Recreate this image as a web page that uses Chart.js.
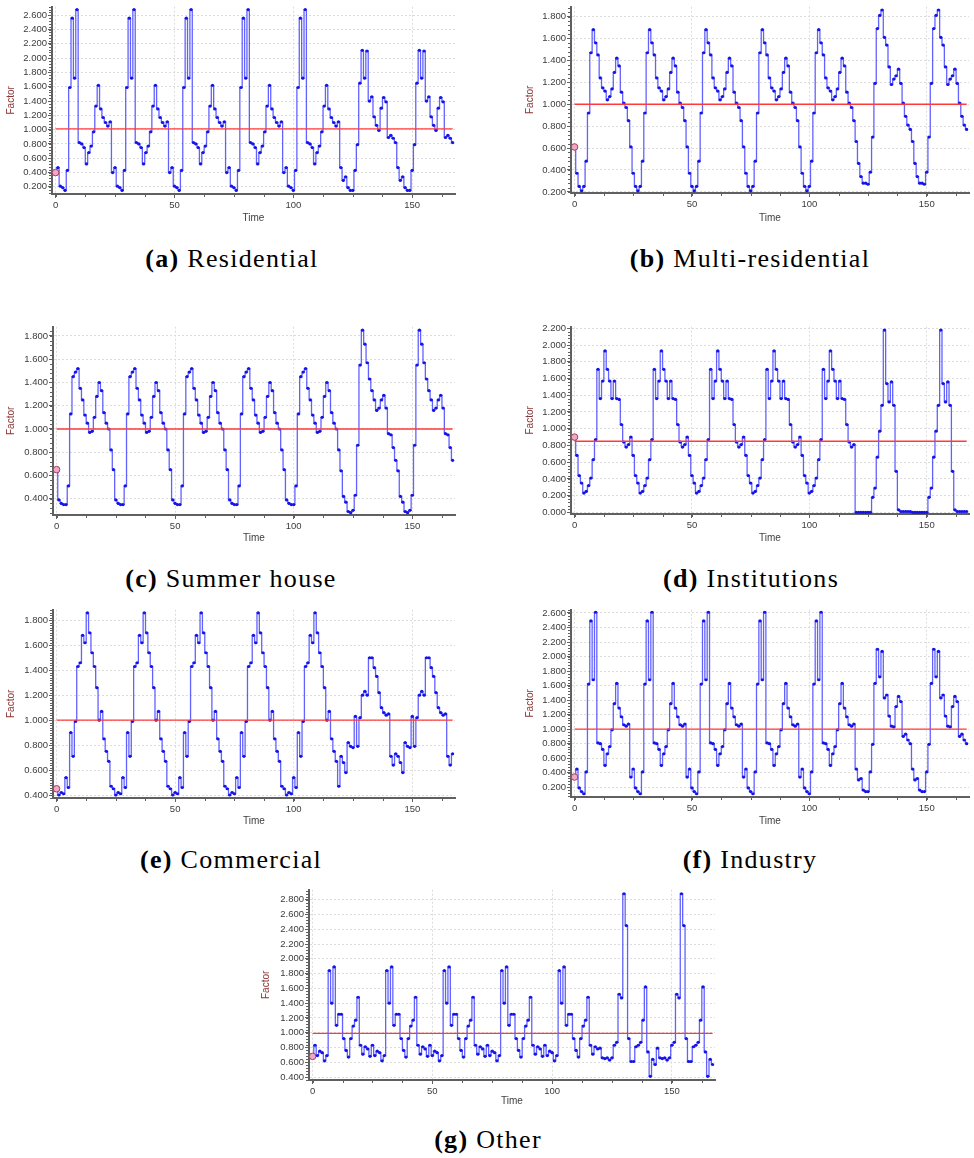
<!DOCTYPE html>
<html>
<head>
<meta charset="utf-8">
<script src="https://cdn.jsdelivr.net/npm/chart.js@4.4.1/dist/chart.umd.min.js"></script>
<style>
  body { margin: 0; background: #fff; }
  #page { position: relative; width: 974px; height: 1158px; overflow: hidden; background: #fff; }
  .panel { position: absolute; }
  .caption {
    position: absolute;
    transform: translateX(-50%);
    white-space: nowrap;
    font-family: "Liberation Serif", "DejaVu Serif", serif;
    font-size: 26px;
    letter-spacing: 1.3px;
    line-height: 28px;
    color: #000;
  }
</style>
</head>
<body>
<div id="page"></div>
<script>
// hourly load factors, one 24 h profile for a weekday and one for a weekend day
const hours = Array.from({ length: 168 }, (_, i) => i);

const residentialWeekday = [0.40, 0.47, 0.21, 0.19, 0.15, 0.43, 1.59, 2.56, 1.72, 2.68, 0.82, 0.80, 0.75, 0.52, 0.68, 0.77, 0.97, 1.33, 1.62, 1.29, 1.17, 1.10, 1.05, 1.11];
const residentialWeekend = [0.47, 0.29, 0.34, 0.19, 0.15, 0.15, 0.43, 0.79, 1.65, 2.11, 1.72, 2.10, 1.40, 1.46, 1.18, 1.06, 0.99, 1.30, 1.45, 1.39, 0.89, 0.92, 0.88, 0.82];

const multiWeekday = [0.61, 0.37, 0.25, 0.21, 0.25, 0.48, 0.92, 1.47, 1.68, 1.56, 1.45, 1.24, 1.15, 1.12, 1.04, 1.07, 1.14, 1.29, 1.42, 1.35, 1.11, 1.01, 0.97, 0.85];
const multiWeekend = [0.66, 0.46, 0.34, 0.28, 0.28, 0.27, 0.38, 0.70, 1.19, 1.69, 1.81, 1.86, 1.61, 1.54, 1.34, 1.18, 1.23, 1.26, 1.32, 1.19, 1.01, 0.89, 0.81, 0.77];

const summerWeekday = [0.65, 0.39, 0.36, 0.35, 0.35, 0.51, 1.13, 1.45, 1.49, 1.52, 1.35, 1.25, 1.12, 1.05, 0.97, 0.98, 1.10, 1.28, 1.40, 1.33, 1.14, 1.05, 1.00, 0.82];
const summerWeekend = [0.64, 0.42, 0.37, 0.29, 0.28, 0.30, 0.43, 0.86, 1.55, 1.85, 1.73, 1.57, 1.43, 1.33, 1.25, 1.16, 1.18, 1.25, 1.29, 1.18, 0.96, 0.95, 0.84, 0.73];

const institutionWeekday = [0.90, 0.68, 0.44, 0.35, 0.23, 0.25, 0.32, 0.41, 0.63, 0.87, 1.71, 1.36, 1.57, 1.93, 1.71, 1.57, 1.36, 1.57, 1.36, 1.35, 1.05, 0.84, 0.78, 0.81];
const institutionWeekend = [0.00, 0.00, 0.00, 0.00, 0.00, 0.00, 0.00, 0.18, 0.29, 0.66, 0.97, 1.28, 2.18, 1.54, 1.32, 1.56, 1.28, 0.49, 0.03, 0.01, 0.01, 0.01, 0.01, 0.01];

const commercialWeekday = [0.45, 0.40, 0.42, 0.41, 0.54, 0.46, 0.90, 0.71, 0.99, 1.43, 1.46, 1.68, 1.62, 1.86, 1.70, 1.54, 1.43, 1.26, 1.00, 1.07, 0.85, 0.75, 0.67, 0.47];
const commercialWeekend = [0.71, 0.66, 0.58, 0.82, 0.79, 0.78, 1.03, 0.79, 1.02, 1.20, 1.23, 1.20, 1.50, 1.50, 1.42, 1.35, 1.22, 1.10, 1.06, 1.04, 1.05, 0.71, 0.64, 0.73];

const industryWeekday = [0.34, 0.45, 0.19, 0.14, 0.11, 0.41, 1.62, 2.49, 1.68, 2.61, 0.81, 0.80, 0.72, 0.50, 0.66, 0.76, 0.99, 1.35, 1.63, 1.29, 1.17, 1.06, 1.04, 1.07];
const industryWeekend = [0.45, 0.30, 0.32, 0.16, 0.14, 0.14, 0.41, 0.79, 1.63, 2.10, 1.72, 2.07, 1.43, 1.47, 1.18, 1.04, 1.03, 1.31, 1.45, 1.38, 0.90, 0.93, 0.85, 0.80];

const otherWeekday = [0.68, 0.83, 0.69, 0.75, 0.73, 0.62, 0.69, 1.84, 1.40, 1.89, 1.10, 1.25, 1.25, 0.92, 0.76, 0.67, 0.92, 1.09, 1.17, 1.48, 0.83, 0.71, 0.81, 0.78];
const otherWeekend = [0.79, 0.66, 0.65, 0.66, 0.63, 0.66, 0.83, 0.87, 1.52, 1.47, 2.88, 2.45, 0.92, 0.61, 0.61, 0.81, 0.83, 0.87, 1.17, 1.62, 0.74, 0.41, 0.64, 0.57];

// red reference level of each panel
const referenceLevels = [1.01, 1.00, 1.00, 0.85, 1.00, 1.00, 0.99];

const captionLetters = ["(a)", "(b)", "(c)", "(d)", "(e)", "(f)", "(g)"];
const captionNames = ["Residential", "Multi-residential", "Summer house", "Institutions", "Commercial", "Industry", "Other"];

// Mon-Fri then Sat, Sun
function buildWeek(weekday, weekend) {
  return [].concat(weekday, weekday, weekday, weekday, weekday, weekend, weekend);
}

const weeks = [
  buildWeek(residentialWeekday, residentialWeekend),
  buildWeek(multiWeekday, multiWeekend),
  buildWeek(summerWeekday, summerWeekend),
  buildWeek(institutionWeekday, institutionWeekend),
  buildWeek(commercialWeekday, commercialWeekend),
  buildWeek(industryWeekday, industryWeekend),
  buildWeek(otherWeekday, otherWeekend)
];

// layout of each panel on the page
const panels = [
  { left: 0,   top: 0,   width: 460, height: 228, yW: 52, xH: 34, padTop: 5, padRight: 4, yMin: 0.10,  yMax: 2.72,  yStep: 0.2, capX: 232, capY: 245 },
  { left: 519, top: 0,   width: 455, height: 228, yW: 52, xH: 35, padTop: 4, padRight: 1, yMin: 0.19,  yMax: 1.89,  yStep: 0.2, capX: 750, capY: 245 },
  { left: 0,   top: 320, width: 460, height: 228, yW: 53, xH: 33, padTop: 5, padRight: 4, yMin: 0.26,  yMax: 1.88,  yStep: 0.2, capX: 231, capY: 565 },
  { left: 519, top: 320, width: 455, height: 228, yW: 52, xH: 34, padTop: 5, padRight: 1, yMin: -0.02, yMax: 2.22,  yStep: 0.2, capX: 751, capY: 565 },
  { left: 0,   top: 603, width: 460, height: 228, yW: 53, xH: 33, padTop: 3, padRight: 4, yMin: 0.376, yMax: 1.885, yStep: 0.1, capX: 231, capY: 846 },
  { left: 519, top: 603, width: 455, height: 228, yW: 52, xH: 34, padTop: 4, padRight: 1, yMin: 0.065, yMax: 2.645, yStep: 0.2, capX: 750, capY: 846 },
  { left: 255, top: 883, width: 465, height: 228, yW: 54, xH: 31, padTop: 6, padRight: 5, yMin: 0.36,  yMax: 2.935, yStep: 0.2, capX: 488, capY: 1126 }
];

const axisFont = { family: "Liberation Sans", size: 9.5 };
const titleFont = { family: "Liberation Sans", size: 10 };
const axisColor = "#606060";

// small minor tick marks on both axes
const minorTicks = {
  id: "minorTicks",
  afterDraw(chart, args, opts) {
    const ctx = chart.ctx;
    const xs = chart.scales.x;
    const ys = chart.scales.y;
    ctx.save();
    ctx.strokeStyle = axisColor;
    ctx.lineWidth = 1;

    const yMinor = opts.yStep / 5;
    for (let k = Math.ceil(ys.min / yMinor); k * yMinor <= ys.max; k++) {
      const py = Math.round(ys.getPixelForValue(k * yMinor)) + 0.5;
      ctx.beginPath();
      ctx.moveTo(ys.right - 3, py);
      ctx.lineTo(ys.right, py);
      ctx.stroke();
    }

    for (let v = 0; v <= xs.max; v += 12.5) {
      const px = Math.round(xs.getPixelForValue(v)) + 0.5;
      ctx.beginPath();
      ctx.moveTo(px, xs.top);
      ctx.lineTo(px, xs.top + 3);
      ctx.stroke();
    }
    ctx.restore();
  }
};

const page = document.getElementById("page");

panels.forEach((p, i) => {
  const box = document.createElement("div");
  box.className = "panel";
  box.style.left = p.left + "px";
  box.style.top = p.top + "px";
  const canvas = document.createElement("canvas");
  canvas.width = p.width;
  canvas.height = p.height;
  box.appendChild(canvas);
  page.appendChild(box);

  const caption = document.createElement("div");
  caption.className = "caption";
  caption.style.left = p.capX + "px";
  caption.style.top = p.capY + "px";
  caption.innerHTML = "<b>" + captionLetters[i] + "</b> " + captionNames[i];
  page.appendChild(caption);

  const series = weeks[i];
  const level = referenceLevels[i];

  new Chart(canvas, {
    type: "line",
    data: {
      datasets: [
        {
          data: [{ x: hours[0], y: level }, { x: hours[hours.length - 1], y: level }],
          borderColor: "#ff3a3a",
          borderWidth: 1.3,
          pointRadius: 0,
          order: 0
        },
        {
          data: series.map((v, k) => ({ x: hours[k], y: v })),
          stepped: "middle",
          borderColor: "rgba(45, 45, 255, 0.75)",
          borderWidth: 1.3,
          pointRadius: (c) => (c.dataIndex === 0 ? 3.3 : 1.6),
          pointBackgroundColor: (c) => (c.dataIndex === 0 ? "#f2a6c8" : "#1414e6"),
          pointBorderColor: (c) => (c.dataIndex === 0 ? "#a0405f" : "#1414e6"),
          pointBorderWidth: (c) => (c.dataIndex === 0 ? 1 : 0),
          order: 1
        }
      ]
    },
    options: {
      responsive: false,
      animation: false,
      events: [],
      layout: { padding: { top: p.padTop, right: p.padRight, bottom: 0, left: 0 } },
      plugins: {
        legend: { display: false },
        tooltip: { enabled: false },
        minorTicks: { yStep: p.yStep }
      },
      scales: {
        x: {
          type: "linear",
          min: -1.5,
          max: 168,
          afterFit: (s) => { s.height = p.xH; },
          ticks: {
            stepSize: 50,
            includeBounds: false,
            maxRotation: 0,
            color: "#3c3c3c",
            font: axisFont,
            padding: 2
          },
          grid: { color: "#dcdcdc", tickColor: axisColor, tickLength: 4 },
          border: { color: axisColor, width: 2, dash: [2, 2] },
          title: {
            display: true,
            text: "Time",
            color: "#404040",
            font: titleFont,
            padding: { top: 0, bottom: 4 }
          }
        },
        y: {
          min: p.yMin,
          max: p.yMax,
          afterFit: (s) => { s.width = p.yW; },
          ticks: {
            stepSize: p.yStep,
            includeBounds: false,
            color: "#3c3c3c",
            font: axisFont,
            padding: 1,
            callback: (v) => v.toFixed(3)
          },
          grid: { color: "#dcdcdc", tickColor: axisColor, tickLength: 4 },
          border: { color: axisColor, width: 2, dash: [2, 2] },
          title: {
            display: true,
            text: "Factor",
            color: "#8a3434",
            font: titleFont,
            padding: { top: 5, bottom: 0 }
          }
        }
      }
    },
    plugins: [minorTicks]
  });
});
</script>
</body>
</html>
